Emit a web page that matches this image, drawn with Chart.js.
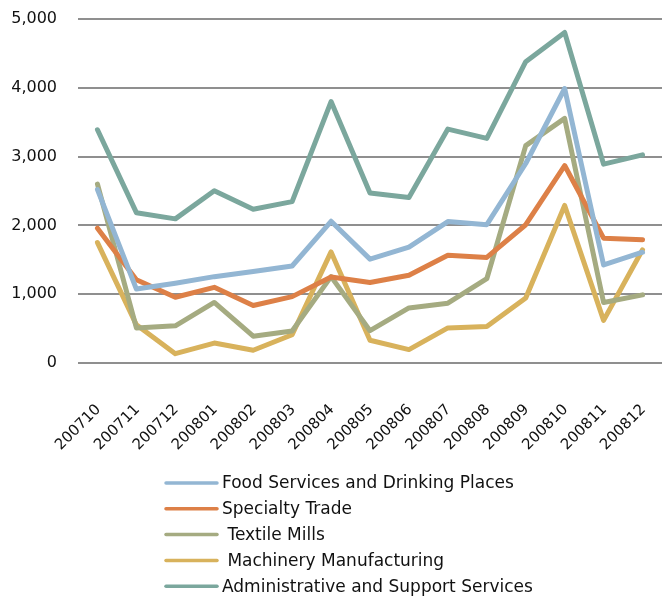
<!DOCTYPE html>
<html>
<head>
<meta charset="utf-8">
<script src="https://cdn.jsdelivr.net/npm/chart.js@4/dist/chart.umd.min.js"></script>
<style>
html,body{margin:0;padding:0;background:#fff;}
#wrap{position:relative;width:662px;height:599px;}
</style>
</head>
<body>
<div id="wrap"><canvas id="c" width="662" height="599"></canvas></div>
<script>
const categories = ["200710","200711","200712","200801","200802","200803","200804","200805","200806","200807","200808","200809","200810","200811","200812"];
const foodServices = [2520,1075,1160,1255,1330,1410,2060,1510,1685,2055,2010,2900,3990,1425,1610];
const specialtyTrade = [1960,1210,955,1100,835,965,1250,1170,1275,1565,1535,2010,2870,1815,1790];
const textileMills = [2600,510,540,880,390,465,1255,470,800,870,1225,3160,3555,880,990];
const machineryMfg = [1750,555,135,290,185,410,1615,330,195,510,530,945,2290,620,1645];
const adminSupport = [3390,2185,2095,2505,2235,2345,3800,2470,2405,3400,3265,4380,4805,2890,3025];
const seriesNames = ["Food Services and Drinking Places","Specialty Trade"," Textile Mills"," Machinery Manufacturing","Administrative and Support Services"];
const seriesColors = ["#93B6D3","#DD8047","#A5AB81","#D8B25C","#7BA79D"];
const yTicks = [0,1000,2000,3000,4000,5000];

const seriesValues = [foodServices, specialtyTrade, textileMills, machineryMfg, adminSupport];
const datasets = seriesValues.map((vals, i) => ({
  label: seriesNames[i],
  data: vals,
  borderColor: seriesColors[i],
  backgroundColor: seriesColors[i],
  borderWidth: 5,
  pointRadius: 0,
  tension: 0,
  fill: false,
  borderJoinStyle: 'round',
  borderCapStyle: 'round'
}));

const legendPlugin = {
  id: 'vlegend',
  afterDraw(chart) {
    const ctx = chart.ctx;
    ctx.save();
    ctx.font = '17px "DejaVu Sans"';
    ctx.textBaseline = 'middle';
    ctx.textAlign = 'left';
    const y0 = 483, dy = 25.8;
    chart.data.datasets.forEach((ds, i) => {
      const y = y0 + i * dy;
      ctx.strokeStyle = ds.borderColor;
      ctx.lineWidth = 3.5;
      ctx.lineCap = 'round';
      ctx.beginPath();
      ctx.moveTo(166, y);
      ctx.lineTo(217, y);
      ctx.stroke();
      ctx.fillStyle = '#111';
      ctx.fillText(ds.label, 222, y + 1);
    });
    ctx.restore();
  }
};

new Chart(document.getElementById('c'), {
  type: 'line',
  data: { labels: categories, datasets: datasets },
  plugins: [legendPlugin],
  options: {
    responsive: false,
    animation: false,
    layout: { padding: { top: 19, right: -5, left: 0, bottom: 116 } },
    plugins: { legend: { display: false }, tooltip: { enabled: false } },
    scales: {
      x: {
        offset: true,
        grid: { display: false, drawTicks: false },
        border: { display: false },
        ticks: {
          color: '#111',
          font: { family: 'DejaVu Sans', size: 15 },
          maxRotation: 45, minRotation: 45,
          autoSkip: false,
          padding: 38,
          labelOffset: 1
        },
        afterFit(s) { s.height = 120; s.paddingLeft = 0; s.paddingRight = 0; }
      },
      y: {
        min: 0, max: 5000,
        afterBuildTicks(s) { s.ticks = yTicks.map(v => ({ value: v })); },
        grid: { color: '#8f8f8f', lineWidth: 2, drawTicks: false },
        border: { display: false },
        ticks: {
          color: '#111',
          font: { family: 'DejaVu Sans', size: 16 },
          padding: 21,
          callback: v => v.toLocaleString('en-US')
        },
        afterFit(s) { s.width = 78; s.paddingTop = 0; s.paddingBottom = 0; }
      }
    }
  }
});
</script>
</body>
</html>
